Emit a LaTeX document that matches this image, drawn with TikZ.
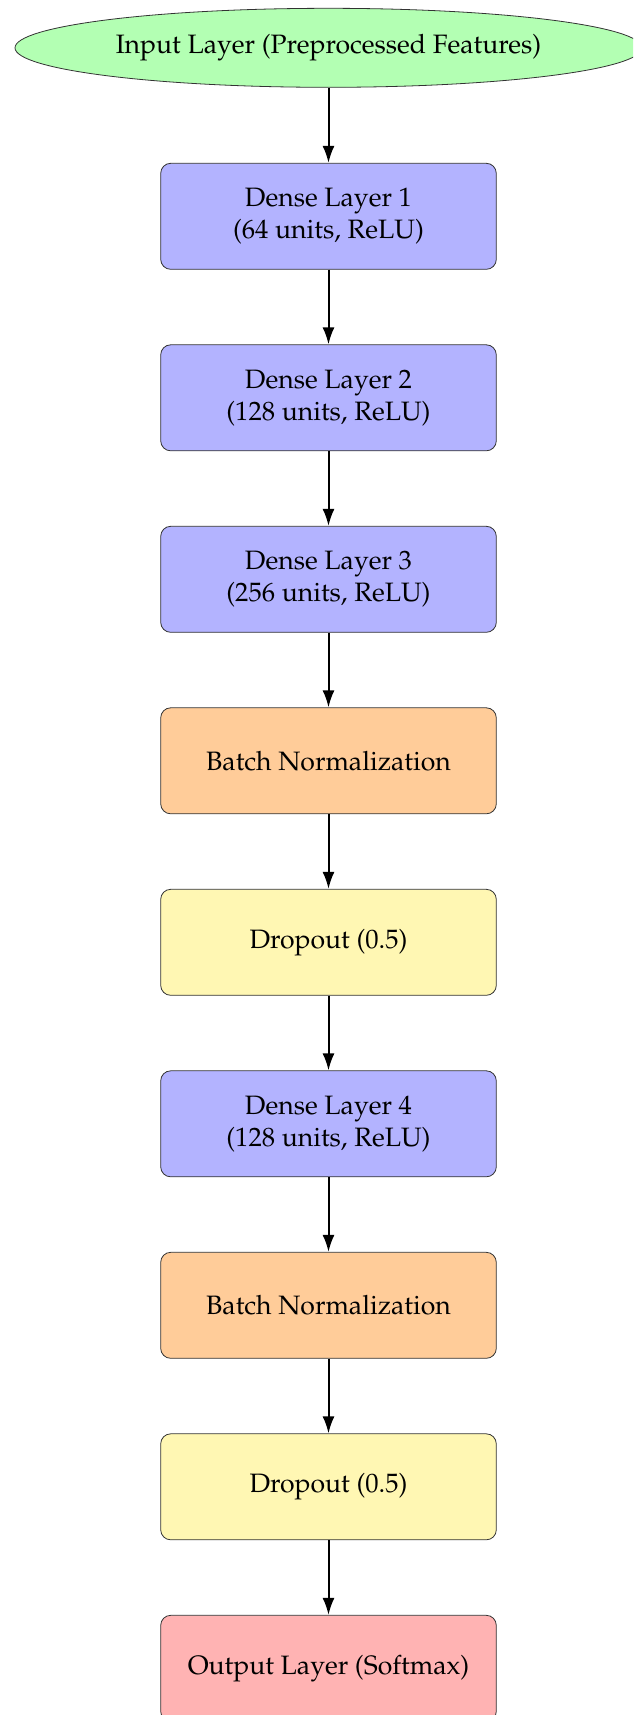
\documentclass[tikz,border=0pt]{standalone}
\usepackage[T1]{fontenc}
\usepackage{mathpazo}
\usetikzlibrary{shapes.geometric,arrows.meta}
\definecolor{inputfill}{RGB}{179,255,179}
\definecolor{densefill}{RGB}{179,179,255}
\definecolor{bnfill}{RGB}{255,204,153}
\definecolor{dropfill}{RGB}{255,247,179}
\definecolor{outfill}{RGB}{255,179,179}
\begin{document}
\begin{tikzpicture}[x=0.5pt,y=-0.5pt,
  layerbox/.style={draw=black!80, thin, rounded corners=5pt, minimum width=167.8pt, minimum height=53pt, align=center, inner sep=0pt, font=\fontsize{13.3}{16}\selectfont},
  dense/.style={layerbox, fill=densefill},
  bn/.style={layerbox, fill=bnfill},
  drop/.style={layerbox, fill=dropfill},
  outl/.style={layerbox, fill=outfill},
  inl/.style={ellipse, draw=black!80, thin, fill=inputfill, minimum width=313.5pt, minimum height=39.5pt, inner sep=0pt, font=\fontsize{13.3}{16}\selectfont},
  conn/.style={-{Latex[length=8.5pt,width=6pt]}, line width=1pt}]
\useasboundingbox (0,0) rectangle (633,1715);
\clip (0,0) rectangle (633,1715);
\node[inl] (in) at (328.5,47.8) {Input Layer (Preprocessed Features)};
\node[dense] (d1) at (328.5,216.3) {Dense Layer 1\\(64 units, ReLU)};
\node[dense] (d2) at (328.5,397.8) {Dense Layer 2\\(128 units, ReLU)};
\node[dense] (d3) at (328.5,579.3) {Dense Layer 3\\(256 units, ReLU)};
\node[bn] (b1) at (328.5,760.8) {Batch Normalization};
\node[drop] (p1) at (328.5,942.3) {Dropout (0.5)};
\node[dense] (d4) at (328.5,1123.8) {Dense Layer 4\\(128 units, ReLU)};
\node[bn] (b2) at (328.5,1305.3) {Batch Normalization};
\node[drop] (p2) at (328.5,1486.8) {Dropout (0.5)};
\node[outl] (out) at (328.5,1668.3) {Output Layer (Softmax)};
\draw[conn] (in) -- (d1);
\draw[conn] (d1) -- (d2);
\draw[conn] (d2) -- (d3);
\draw[conn] (d3) -- (b1);
\draw[conn] (b1) -- (p1);
\draw[conn] (p1) -- (d4);
\draw[conn] (d4) -- (b2);
\draw[conn] (b2) -- (p2);
\draw[conn] (p2) -- (out);
\end{tikzpicture}
\end{document}
